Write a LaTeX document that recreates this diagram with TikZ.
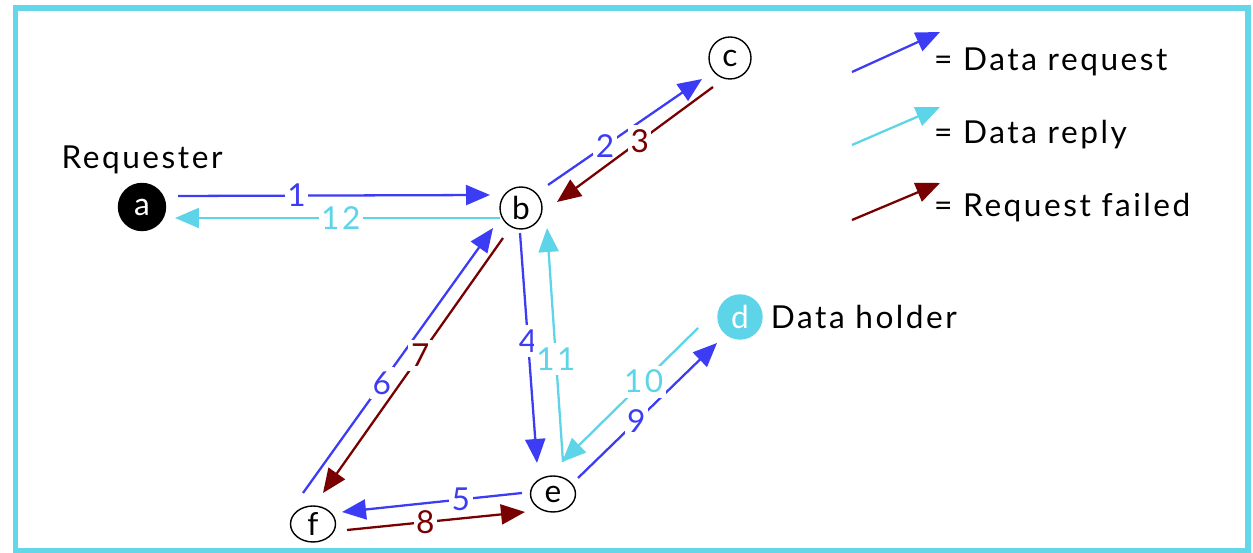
\documentclass[tikz,border=0pt]{standalone}
\usepackage{fontspec}
\setmainfont{Lato}[LetterSpace=8]
\usetikzlibrary{arrows.meta,positioning,shapes.geometric}
\definecolor{reqblue}{RGB}{60,60,245}
\definecolor{repcyan}{RGB}{94,212,232}
\definecolor{failred}{RGB}{120,0,0}
\definecolor{framecyan}{RGB}{100,214,234}

\begin{document}
\begin{tikzpicture}[
    x=0.02cm, y=0.02cm,
    font=\fontsize{18}{21}\selectfont,
    peer/.style={circle, draw=black, thick, minimum size=0.84cm, inner sep=0pt},
    flat/.style={ellipse, draw=black, thick, minimum width=0.9cm, minimum height=0.72cm, inner sep=0pt},
    msg/.style={-{Triangle[length=0.48cm, width=0.4cm]}, line width=1.3pt},
    req/.style={msg, reqblue},
    rep/.style={msg, repcyan},
    fail/.style={msg, failred},
    num/.style={fill=white, inner xsep=1.5pt, inner ysep=2.5pt}
]
\useasboundingbox (0,0) rectangle (1253,553);
\draw[framecyan, line width=0.12cm] (15.5,2) rectangle (1248,544.5);
% Peers
\node[peer, fill=black, text=white, minimum size=0.94cm] (a) at (142,346) {a};
\node[peer] (b) at (521,345) {b};
\node[peer] (c) at (730,495) {c};
\node[peer, fill=repcyan, draw=repcyan, text=white, minimum size=0.88cm] (d) at (740,236) {d};
\node[flat] (e) at (553,59) {e};
\node[flat] (f) at (313,29) {f};
\node[above=0.05cm of a] (reqlbl) {Requester};
\node[right=0.04cm of d] (holder) {Data holder};
% Messages, in order
\draw[req] ([shift={(36,11)}]a.center) -- node[num, pos=0.38] {1} ([shift={(-31,13)}]b.center);
\draw[req] ([shift={(27,23)}]b.center) -- node[num, pos=0.37] {2} ([shift={(-28,-21)}]c.center);
\draw[fail] ([shift={(-17,-29)}]c.center) -- node[num, pos=0.47] {3} ([shift={(36,6)}]b.center);
\draw[req] ([shift={(-1,-25)}]b.center) -- node[num, pos=0.47] {4} ([shift={(-16,31)}]e.center);
\draw[req] ([shift={(-31,1)}]e.center) -- node[num, pos=0.34] {5} ([shift={(29,12)}]f.center);
\draw[req] ([shift={(-10,31)}]f.center) -- node[num, pos=0.415] {6} ([shift={(-28,-20)}]b.center);
\draw[fail] ([shift={(-18,-30)}]b.center) -- node[num, pos=0.46] {7} ([shift={(10,31)}]f.center);
\draw[fail] ([shift={(34,-6)}]f.center) -- node[num, pos=0.44] {8} ([shift={(-28,-18)}]e.center);
\draw[req] ([shift={(25,16)}]e.center) -- node[num, pos=0.42] {9} ([shift={(-23,-26)}]d.center);
\draw[rep] ([shift={(-42,-11)}]d.center) -- node[num, pos=0.40] {10} ([shift={(9,32)}]e.center);
\draw[rep] ([shift={(10,32)}]e.center) -- node[num, pos=0.44] {11} ([shift={(26,-20)}]b.center);
\draw[rep] ([shift={(-21,-10)}]b.center) -- node[num, pos=0.49] {12} ([shift={(33,-11)}]a.center);
% Legend
\coordinate (lreqs) at (852,481);
\coordinate (lreqt) at (940,521);
\node[anchor=west] (lreq) at (928,491) {= Data request};
\draw[req] (lreqs) -- (lreqt);
\coordinate (lreps) at (852,408);
\coordinate (lrept) at (940,446);
\node[anchor=west] (lrep) at (928,418) {= Data reply};
\draw[rep] (lreps) -- (lrept);
\coordinate (lfails) at (852,333);
\coordinate (lfailt) at (940,370);
\node[anchor=west] (lfail) at (928,345) {= Request failed};
\draw[fail] (lfails) -- (lfailt);
\end{tikzpicture}
\end{document}
